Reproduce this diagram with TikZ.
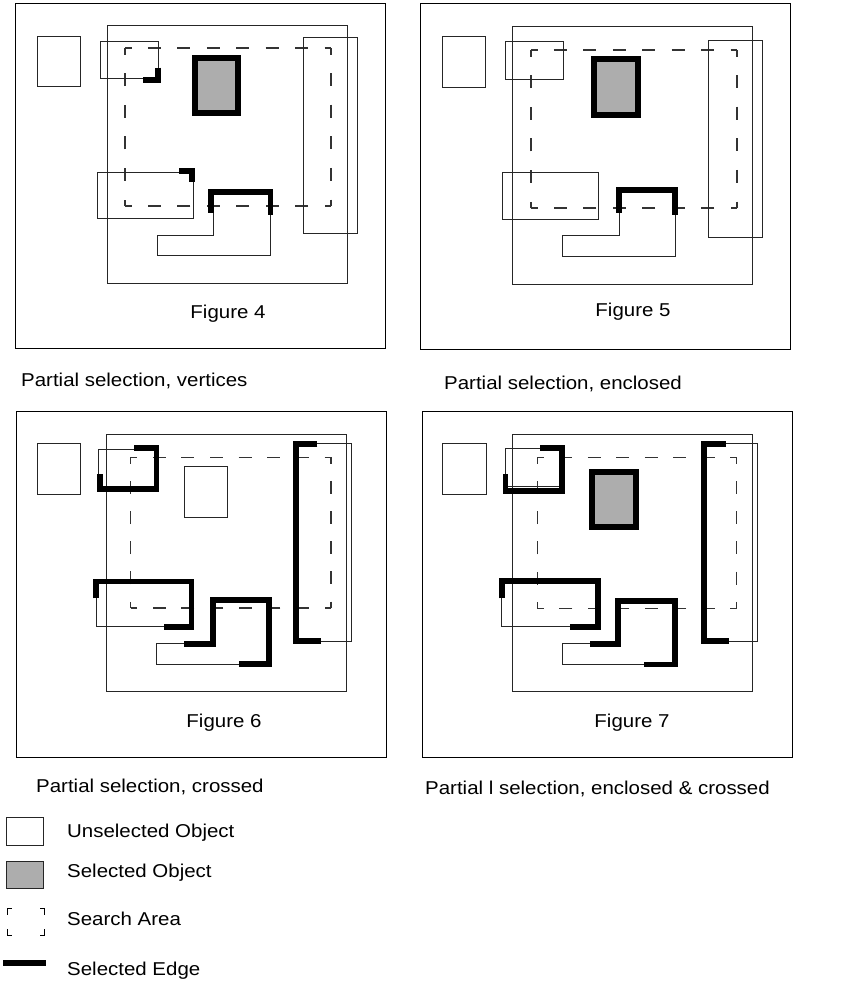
\documentclass[tikz,border=0pt]{standalone}
\usepackage{fontspec}
\setmainfont{Liberation Sans}
\newcommand{\lbltxt}[1]{{\fontsize{18.6}{22}\selectfont\scalebox{1.1}[1]{#1}}}
% one side of a search area, with half dashes at both ends
\newcommand{\dashside}[4]{%
  \pgfmathsetmacro{\dsLen}{veclen(#3-#1,#4-#2)}%
  \pgfmathsetmacro{\dsN}{max(1,round(\dsLen/29))}%
  \pgfmathsetmacro{\dsGap}{\dsLen/\dsN-13}%
  \draw[search,dash pattern=on 13pt off \dsGap pt,dash phase=6.5pt] (#1,#2) -- (#3,#4);}
\newcommand{\searchrect}[4]{%
  \dashside{#1}{#2}{#3}{#2}\dashside{#3}{#2}{#3}{#4}%
  \dashside{#3}{#4}{#1}{#4}\dashside{#1}{#4}{#1}{#2}}
\begin{document}
\begin{tikzpicture}[x=1pt,y=-1pt,
  thin line/.style={draw=black!85,line width=0.9pt},
  frame/.style={draw=black,line width=0.9pt},
  search/.style={draw=black!80,line width=1.2pt,line cap=butt},
  seledge/.style={draw=black,line width=5.8pt,line join=miter,line cap=butt},
  selobj/.style={draw=black,line width=6pt,fill=black!32},
  lbl/.style={inner sep=0pt,anchor=base west},
  figcap/.style={inner sep=0pt,anchor=base}]
\useasboundingbox (0,0) rectangle (845,993);
\fill[white] (0,0) rectangle (845,993);

% ---------- Figure 4 ----------
\draw[frame] (15,3) rectangle (385,348);
\draw[thin line] (107,25) rectangle (347,283);
\searchrect{125}{48}{331}{206}
\draw[thin line] (37,36) rectangle (80,86);
\draw[thin line] (100,41) rectangle (158,78);
\draw[seledge] (157.7,67.7) -- (157.7,80) -- (142.7,80);
\draw[selobj] (195,57.5) rectangle (238,113);
\draw[thin line] (303,37) rectangle (357,233);
\draw[thin line] (97,172) rectangle (193,218);
\draw[seledge] (179,171) -- (192.3,171) -- (192.3,182.3);
\draw[thin line] (213.3,191.7) -- (270,191.7) -- (270,255.3) -- (157.7,255.3) -- (157.7,235) -- (213.3,235) -- cycle;
\draw[seledge] (210.7,212.7) -- (210.7,191.7) -- (270.5,191.7) -- (270.5,215);
\node[figcap] (f4) at (228,318) {\lbltxt{Figure 4}};
\node[lbl] (c4) at (21,386) {\lbltxt{Partial selection, vertices}};

% ---------- Figure 5 ----------
\draw[frame] (420,3) rectangle (790,349);
\draw[thin line] (512,26) rectangle (752,284);
\searchrect{531}{50}{737}{208}
\draw[thin line] (442,36) rectangle (485,87);
\draw[thin line] (505,41) rectangle (563,79);
\draw[selobj] (594,59) rectangle (637.5,114.7);
\draw[thin line] (708,40) rectangle (762,237);
\draw[thin line] (502,172) rectangle (598,219);
\draw[thin line] (619,190) -- (675,190) -- (675,256) -- (562.7,256) -- (562.7,235) -- (619,235) -- cycle;
\draw[seledge] (618.7,212.7) -- (618.7,189.7) -- (675,189.7) -- (675,215);
\node[figcap] (f5) at (633,316) {\lbltxt{Figure 5}};
\node[lbl] (c5) at (444,389) {\lbltxt{Partial selection, enclosed}};

% ---------- Figure 6 ----------
\draw[frame] (16,411) rectangle (386,757);
\draw[thin line] (106.7,434) rectangle (346,691.7);
\searchrect{130.7}{457.3}{331}{608}
\draw[thin line] (37,443) rectangle (80,494);
\draw[thin line] (184.3,466.7) rectangle (227.7,517);
\draw[thin line] (98.3,449) rectangle (156.7,487.3);
\draw[seledge] (134.3,448) -- (156.5,448) -- (156.5,489) -- (99.8,489) -- (99.8,474.3);
\draw[thin line] (96,581.5) rectangle (191.5,626.5);
\draw[seledge] (96,598.3) -- (96,581.5) -- (191.5,581.5) -- (191.5,627) -- (163.7,627);
\draw[thin line] (212.7,600.3) -- (268.7,600.3) -- (268.7,664.3) -- (156.7,664.3) -- (156.7,643.7) -- (212.7,643.7) -- cycle;
\draw[seledge] (184.3,643.7) -- (212.7,643.7) -- (212.7,600.3) -- (268.7,600.3) -- (268.7,664.3) -- (239,664.3);
\draw[thin line] (296.2,443.7) rectangle (351.7,641.3);
\draw[seledge] (317.3,443.7) -- (296.2,443.7) -- (296.2,641.3) -- (321,641.3);
\node[figcap] (f6) at (224,727) {\lbltxt{Figure 6}};
\node[lbl] (c6) at (36,792) {\lbltxt{Partial selection, crossed}};

% ---------- Figure 7 ----------
\draw[frame] (422,411) rectangle (792,757);
\draw[thin line] (512.3,434) rectangle (752.3,691.7);
\searchrect{537.3}{457.3}{736.7}{608.3}
\draw[thin line] (442,443) rectangle (486,494);
\draw[selobj] (592.3,471.5) rectangle (635.5,527.2);
\draw[thin line] (505,448) rectangle (559.3,486.7);
\draw[seledge] (540,448) -- (562,448) -- (562,491.3) -- (505.5,491.3) -- (505.5,474.3);
\draw[thin line] (501.7,583.3) rectangle (596,626.3);
\draw[seledge] (502,598.3) -- (502,581.2) -- (597.8,581.2) -- (597.8,627) -- (570,627);
\draw[thin line] (618.3,600.8) -- (674.7,600.8) -- (674.7,664.5) -- (562.7,664.5) -- (562.7,643.8) -- (618.3,643.8) -- cycle;
\draw[seledge] (590,643.8) -- (618.3,643.8) -- (618.3,600.8) -- (674.7,600.8) -- (674.7,664.5) -- (644.3,664.5);
\draw[thin line] (703.7,443.7) rectangle (757.3,641.3);
\draw[seledge] (725.7,443.7) -- (703.7,443.7) -- (703.7,641.3) -- (729.3,641.3);
\node[figcap] (f7) at (632,727) {\lbltxt{Figure 7}};
\node[lbl] (c7) at (425,794) {\lbltxt{Partial l selection, enclosed \& crossed}};

% ---------- Legend ----------
\draw[thin line] (6.7,817.7) rectangle (43.3,845.3);
\draw[thin line,fill=black!32] (6.7,861.7) rectangle (43.3,888.3);
\draw[draw=black,line width=1pt] (7.3,914.7) -- (7.3,908.7) -- (11.5,908.7);
\draw[draw=black,line width=1pt] (40,908.7) -- (44.3,908.7) -- (44.3,914.7);
\draw[draw=black,line width=1pt] (7.3,929) -- (7.3,935) -- (11.5,935);
\draw[draw=black,line width=1pt] (40,935) -- (44.3,935) -- (44.3,929);
\draw[seledge,line width=6pt] (3.3,962.5) -- (45.7,962.5);
\node[lbl] (l1) at (67,837.4) {\lbltxt{Unselected Object}};
\node[lbl] (l2) at (67,877.4) {\lbltxt{Selected Object}};
\node[lbl] (l3) at (67,925) {\lbltxt{Search Area}};
\node[lbl] (l4) at (67,975) {\lbltxt{Selected Edge}};
\end{tikzpicture}
\end{document}
